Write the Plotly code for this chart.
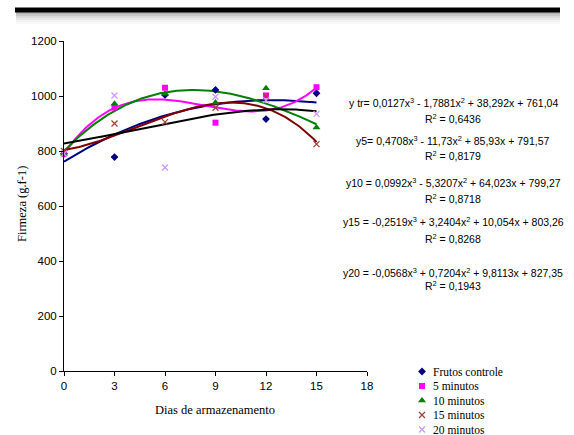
import numpy as np
import plotly.graph_objects as go

# ---------------- data ----------------
dias = [0, 3, 6, 9, 12, 15]
controle = [790, 778, 1004, 1022, 916, 1010]
min5 = [790, 958, 1030, 903, 1002, 1032]
min10 = [790, 972, 1008, 976, 1028, 885]
min15 = [800, 900, 905, 957, 998, 825]
min20 = [790, 1002, 740, 997, 985, 935]

series_names = ["Frutos controle", "5 minutos", "10 minutos", "15 minutos", "20 minutos"]

# cubic trendline coefficients (a3, a2, a1, a0)
coef_controle = [0.0127, -1.7881, 38.292, 761.04]
coef_5 = [0.4708, -11.73, 85.93, 791.57]
coef_10 = [0.0992, -5.3207, 64.023, 799.27]
coef_15 = [-0.2519, 3.2404, 10.054, 803.26]
coef_20 = [-0.0568, 0.7204, 9.8113, 827.35]

eq_texts = [
    "y tr= 0,0127x<sup>3</sup> - 1,7881x<sup>2</sup> + 38,292x + 761,04",
    "y5= 0,4708x<sup>3</sup> - 11,73x<sup>2</sup> + 85,93x + 791,57",
    "y10 = 0,0992x<sup>3</sup> - 5,3207x<sup>2</sup> + 64,023x + 799,27",
    "y15 = -0,2519x<sup>3</sup> + 3,2404x<sup>2</sup> + 10,054x + 803,26",
    "y20 = -0,0568x<sup>3</sup> + 0,7204x<sup>2</sup> + 9,8113x + 827,35",
]
r2_texts = ["R<sup>2</sup> = 0,6436", "R<sup>2</sup> = 0,8179", "R<sup>2</sup> = 0,8718",
            "R<sup>2</sup> = 0,8268", "R<sup>2</sup> = 0,1943"]

# ---------------- styles ----------------
W, H = 574, 435
values = [controle, min5, min10, min15, min20]
coefs = [coef_controle, coef_5, coef_10, coef_15, coef_20]
marker_colors = ["#000080", "#FF00FF", "#008000", "#A0403A", "#CC99FF"]
line_colors = ["#000080", "#FF00FF", "#008000", "#800000", "#000000"]
symbols = ["diamond", "square", "triangle-up", "x-thin", "x-thin"]
sizes = [6, 6, 7, 6, 6]

serif = "Liberation Serif, Times New Roman"
sans = "Liberation Sans, Arial"

def px(x):
    return x / W

def py(y):
    return 1 - y / H

fig = go.Figure()

xs = np.linspace(0, 15, 151)
for c, col in zip(coefs, line_colors):
    fig.add_trace(go.Scatter(x=xs, y=np.polyval(c, xs), mode="lines",
                             line=dict(color=col, width=2), showlegend=False,
                             hoverinfo="skip"))

def mk_for(col, sym, sz):
    mk = dict(color=col, symbol=sym, size=sz)
    if sym.startswith("x-thin"):
        mk["line"] = dict(color=col, width=1.3)
    return mk

for name, v, col, sym, sz in zip(series_names, values, marker_colors, symbols, sizes):
    fig.add_trace(go.Scatter(x=dias, y=v, mode="markers", name=name,
                             marker=mk_for(col, sym, sz), cliponaxis=False,
                             showlegend=False))

# manual legend (overlay axes covering whole figure, in pixel units)
leg_y = [371.5, 386, 400.5, 415, 429.5]
for name, col, sym, sz, ly in zip(series_names, marker_colors, symbols, sizes, leg_y):
    fig.add_trace(go.Scatter(x=[422], y=[ly], mode="markers", xaxis="x2", yaxis="y2",
                             marker=mk_for(col, sym, sz), showlegend=False,
                             hoverinfo="skip", cliponaxis=False))
    fig.add_annotation(text=name, xref="paper", yref="paper", x=px(431), y=py(ly),
                       xanchor="left", yanchor="middle", showarrow=False,
                       font=dict(family=serif, size=11.5, color="#000"))

# equations annotations
eq_y = [102, 140, 183, 221, 272]
r2_y = [118, 155, 199, 239, 285]
for t, r, ey, ry in zip(eq_texts, r2_texts, eq_y, r2_y):
    fig.add_annotation(text=t, xref="paper", yref="paper", x=px(453), y=py(ey),
                       showarrow=False, xanchor="center", yanchor="middle",
                       font=dict(family=sans, size=10.5, color="#000"))
    fig.add_annotation(text=r, xref="paper", yref="paper", x=px(453), y=py(ry),
                       showarrow=False, xanchor="center", yanchor="middle",
                       font=dict(family=sans, size=10.5, color="#000"))

# axis titles
fig.add_annotation(text="Dias de armazenamento", xref="paper", yref="paper",
                   x=px(215), y=py(410), showarrow=False, xanchor="center", yanchor="middle",
                   font=dict(family=serif, size=12.5, color="#000"))
fig.add_annotation(text="Firmeza (g.f-1)", xref="paper", yref="paper",
                   x=px(22), y=py(204), showarrow=False, textangle=-90,
                   xanchor="center", yanchor="middle",
                   font=dict(family=serif, size=12.5, color="#000"))

# decorative top bar with shadow
shadow = ["#b0b0b0", "#c8c8c8", "#dadada", "#e8e8e8", "#f2f2f2", "#f8f8f8"]
for i, sc in enumerate(shadow):
    fig.add_shape(type="rect", xref="paper", yref="paper",
                  x0=px(16), x1=px(560), y0=py(12 + 2 * (i + 1)), y1=py(12 + 2 * i),
                  line=dict(width=0), fillcolor=sc, layer="below")
fig.add_shape(type="rect", xref="paper", yref="paper",
              x0=px(15), x1=px(560), y0=py(12.5), y1=py(7.5),
              line=dict(width=0), fillcolor="#000")

fig.update_layout(
    width=W, height=H,
    margin=dict(l=0, r=0, t=0, b=0, autoexpand=False),
    paper_bgcolor="white", plot_bgcolor="rgba(0,0,0,0)",
    showlegend=False,
    font=dict(family=sans, size=11, color="#000"),
    xaxis=dict(domain=[px(64), px(367)], range=[0, 18],
               tickvals=[0, 3, 6, 9, 12, 15, 18], showgrid=False,
               zeroline=False, showline=True, linecolor="#000", linewidth=1,
               ticks="outside", ticklen=4, tickcolor="#000",
               tickfont=dict(family=sans, size=11.5)),
    yaxis=dict(domain=[py(371), py(41)], range=[0, 1200], dtick=200, showgrid=False,
               zeroline=False, showline=True, linecolor="#000", linewidth=1,
               ticks="outside", ticklen=4, tickcolor="#000",
               tickfont=dict(family=sans, size=11.5)),
    xaxis2=dict(domain=[0, 1], range=[0, W], visible=False, anchor="y2"),
    yaxis2=dict(domain=[0, 1], range=[H, 0], visible=False, anchor="x2"),
)

fig.write_html("out.html")
